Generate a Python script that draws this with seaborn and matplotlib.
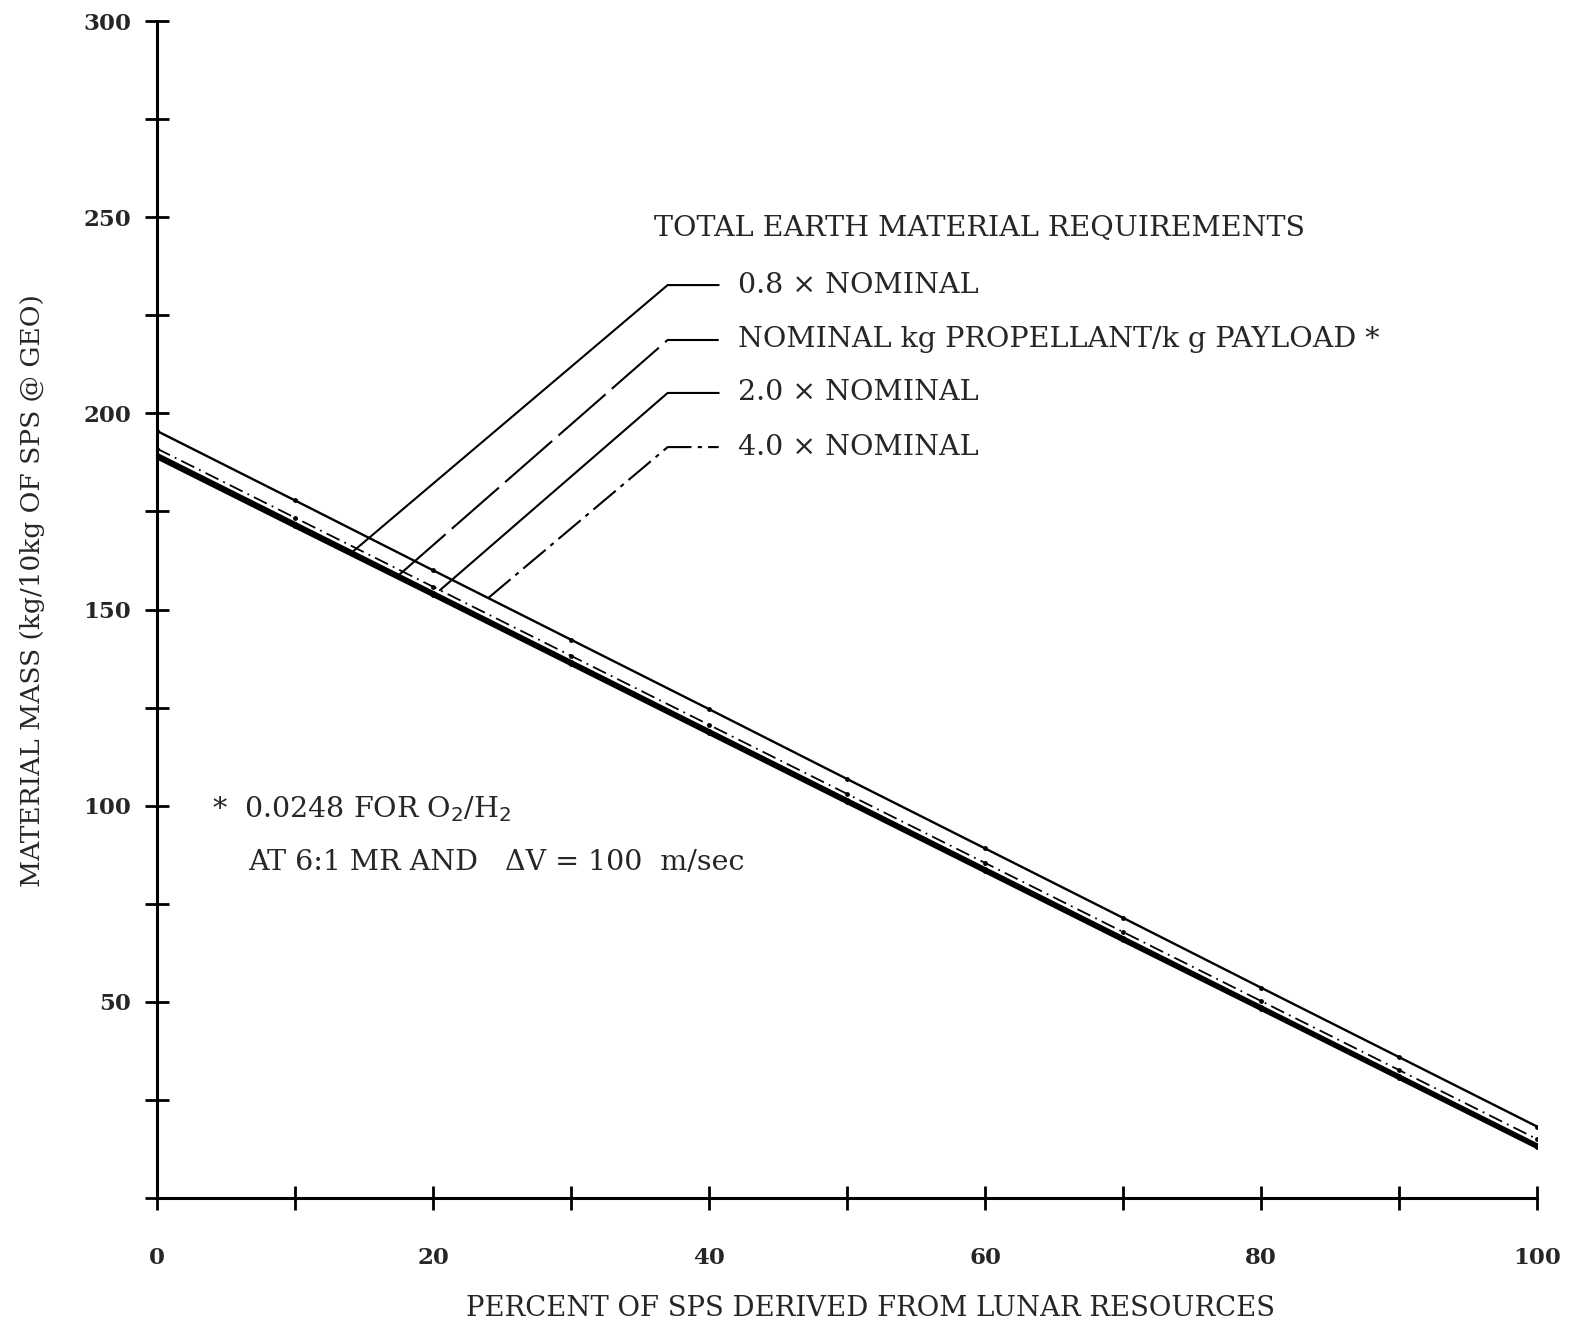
import numpy as np
import pandas as pd
import matplotlib
matplotlib.use("Agg")
import matplotlib.pyplot as plt
from matplotlib.ticker import MultipleLocator, FuncFormatter
import seaborn as sns

# ---- data ----
pct_lunar = [0, 10, 20, 30, 40, 50, 60, 70, 80, 90, 100]
mass_0p8x = [188.8, 171.2, 153.7, 136.1, 118.5, 100.9, 83.3, 65.7, 48.2, 30.6, 13.0]
mass_nominal = [189.5, 171.9, 154.3, 136.7, 119.1, 101.5, 83.9, 66.3, 48.7, 31.1, 13.5]
mass_2p0x = [191.0, 173.4, 155.8, 138.2, 120.6, 103.0, 85.4, 67.8, 50.2, 32.6, 15.0]
mass_4p0x = [195.5, 177.8, 160.0, 142.3, 124.6, 106.8, 89.1, 71.4, 53.6, 35.9, 18.2]
series_labels = ["0.8 × NOMINAL", "NOMINAL kg PROPELLANT/k g PAYLOAD *",
                 "2.0 × NOMINAL", "4.0 × NOMINAL"]

series = [mass_0p8x, mass_nominal, mass_2p0x, mass_4p0x]
df = pd.DataFrame({
    "pct": pct_lunar * 4,
    "mass": sum(series, []),
    "series": sum([[lab] * len(pct_lunar) for lab in series_labels], []),
})

sns.set_theme(style="white")
plt.rcParams['font.family'] = ['DejaVu Serif', 'Liberation Serif']

fig = plt.figure(figsize=(15.75, 13.24), dpi=100)
ax = fig.add_axes([0.0997, 0.0952, 0.8762, 0.8889])

styles = {
    series_labels[0]: dict(lw=3.0, ls='-'),
    series_labels[1]: dict(lw=2.6, ls='-'),
    series_labels[2]: dict(lw=1.3, ls=(0, (8, 3, 1, 3))),
    series_labels[3]: dict(lw=1.7, ls='-'),
}
for lab in series_labels:
    sub = df[df["series"] == lab]
    sns.lineplot(data=sub, x="pct", y="mass", ax=ax, color="black",
                 linewidth=styles[lab]['lw'], linestyle=styles[lab]['ls'],
                 marker='o', markersize=3.5, markeredgewidth=0, legend=False)

ax.set_xlim(0, 100)
ax.set_ylim(0, 300)
ax.xaxis.set_major_locator(MultipleLocator(10))
ax.yaxis.set_major_locator(MultipleLocator(25))
ax.xaxis.set_major_formatter(FuncFormatter(lambda v, p: f"{int(round(v))}" if int(round(v)) % 20 == 0 else ""))
ax.yaxis.set_major_formatter(FuncFormatter(lambda v, p: f"{int(round(v))}" if (int(round(v)) % 50 == 0 and v > 0) else ""))
for s in ['top', 'right']:
    ax.spines[s].set_visible(False)
for s in ['left', 'bottom']:
    ax.spines[s].set_linewidth(2.2)
    ax.spines[s].set_color('black')
ax.tick_params(axis='both', which='major', bottom=True, left=True, direction='inout',
               length=17, width=2, color='black', labelsize=16.5)
ax.tick_params(axis='x', pad=27)
ax.tick_params(axis='y', pad=10)
for t in ax.get_xticklabels() + ax.get_yticklabels():
    t.set_fontweight('bold')

ax.set_xlabel("PERCENT OF SPS DERIVED FROM LUNAR RESOURCES", fontsize=19.8)
ax.set_ylabel("MATERIAL MASS (kg/10kg OF SPS @ GEO)", fontsize=19)
ax.yaxis.set_label_coords(-0.0815, 0.516)
ax.xaxis.set_label_coords(0.517, -0.0825)

txt_size = 20.5
# legend title
ax.text(36.0, 247.0, "TOTAL EARTH MATERIAL REQUIREMENTS", fontsize=txt_size, ha='left', va='center')

# leader lines with labels
leader_x = [14.0, 17.5, 20.5, 24.0]
label_y = [232.7, 218.7, 205.2, 191.4]
leader_ls = ['-', (0, (30, 4)), '-', (0, (14, 3, 2, 3))]
for lab, ys, lx, ly, lls in zip(series_labels, series, leader_x, label_y, leader_ls):
    ty = float(np.interp(lx, pct_lunar, ys))
    ax.plot([lx, 37.0, 40.7], [ty, ly, ly], color='black', lw=1.5, ls=lls)
    ax.text(42.1, ly, lab, fontsize=txt_size, ha='left', va='center')

# footnote
ax.text(4.0, 99.0, "*  0.0248 FOR O$_2$/H$_2$", fontsize=txt_size, ha='left', va='center')
ax.text(6.6, 85.4, "AT 6:1 MR AND   ΔV = 100  m/sec", fontsize=txt_size, ha='left', va='center')

fig.savefig("out.png", dpi=100, facecolor='white')
